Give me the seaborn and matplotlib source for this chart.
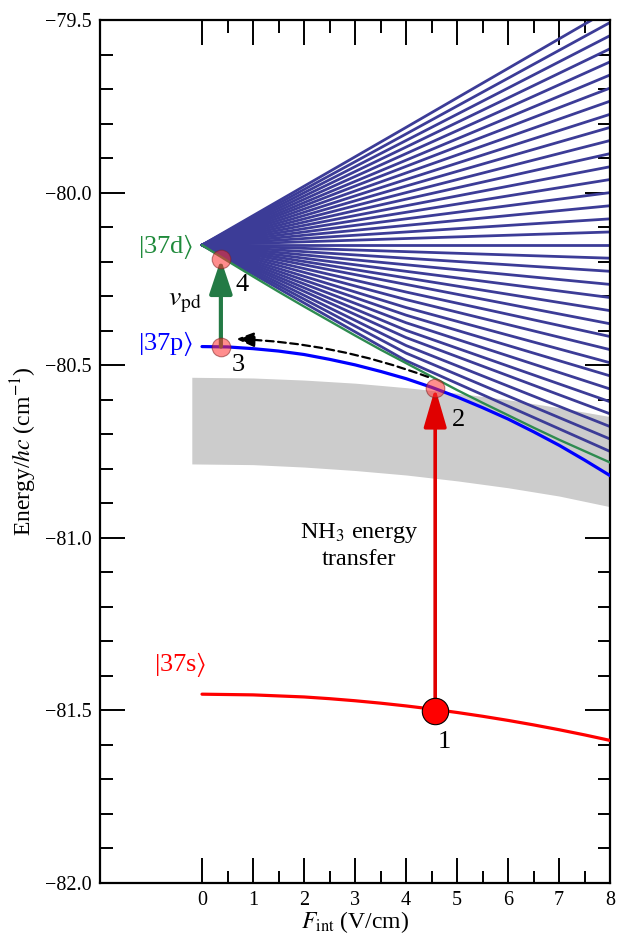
import numpy as np
import pandas as pd
import seaborn as sns
import matplotlib.pyplot as plt
from matplotlib.ticker import FuncFormatter

sns.set_theme(style='ticks')
plt.rcParams['font.family'] = ['Liberation Serif', 'DejaVu Serif']
plt.rcParams['mathtext.fontset'] = 'stix'
plt.rcParams['text.color'] = 'black'
plt.rcParams['axes.labelcolor'] = 'black'

# field strength F_int (V/cm) and energies E/hc (cm^-1)
field = [0, 0.5, 1, 1.5, 2, 2.5, 3, 3.5, 4, 4.5, 5, 5.5, 6, 6.5, 7, 7.5, 8]
state_37s = [-81.453, -81.454, -81.455, -81.458, -81.461, -81.466, -81.472, -81.479, -81.487,
             -81.496, -81.506, -81.517, -81.529, -81.542, -81.556, -81.571, -81.587]
state_37p = [-80.446, -80.447, -80.452, -80.459, -80.469, -80.483, -80.499, -80.518, -80.539,
             -80.564, -80.592, -80.623, -80.656, -80.693, -80.732, -80.775, -80.820]
state_37d = [-80.152, -80.198, -80.243, -80.287, -80.330, -80.372, -80.414, -80.455, -80.494,
             -80.533, -80.572, -80.609, -80.645, -80.681, -80.716, -80.749, -80.782]

# grey band
band_field = [-0.2, 1, 2, 3, 4, 5, 6, 7, 8]
band_top = [-80.535, -80.537, -80.543, -80.552, -80.565, -80.581, -80.600, -80.623, -80.649]
band_bottom = [-80.786, -80.788, -80.795, -80.805, -80.818, -80.835, -80.855, -80.879, -80.910]

# Stark manifold, each line at F = 0, 4, 8
fan_field = [0, 4, 8]
fan_start = -80.152
fan_mid = [-79.811, -79.830, -79.849, -79.868, -79.887, -79.906, -79.924, -79.943,
           -79.962, -79.981, -80.000, -80.019, -80.038, -80.057, -80.076, -80.095,
           -80.114, -80.133, -80.152, -80.171, -80.190, -80.209, -80.228, -80.247,
           -80.266, -80.288, -80.310, -80.333, -80.355, -80.377, -80.399, -80.420,
           -80.443, -80.465, -80.487]
fan_end = [-79.469, -79.507, -79.545, -79.583, -79.621, -79.659, -79.697, -79.735,
           -79.773, -79.811, -79.849, -79.887, -79.925, -79.962, -80.000, -80.038,
           -80.076, -80.114, -80.152, -80.190, -80.228, -80.266, -80.304, -80.342,
           -80.380, -80.417, -80.455, -80.493, -80.531, -80.569, -80.606, -80.641,
           -80.678, -80.714, -80.750]

# numbered points
point_names = ['1', '2', '3', '4']
point_field = [4.57, 4.57, 0.37, 0.37]
point_energy = [-81.502, -80.566, -80.446, -80.193]

rows = []
for i, (m, e) in enumerate(zip(fan_mid, fan_end)):
    for f, v in zip(fan_field, [fan_start, m, e]):
        rows.append({'line': i, 'F': f, 'E': v})
fan_df = pd.DataFrame(rows)

fig = plt.figure(figsize=(6.17, 9.35), dpi=100)
ax = fig.add_axes([0.162, 0.0556, 0.827, 0.923])

ax.fill_between(band_field, band_bottom, band_top, color='#cccccc', lw=0, zorder=1)

sns.lineplot(data=fan_df, x='F', y='E', units='line', estimator=None,
             color='#3c3c97', lw=2.0, ax=ax, zorder=2)
sns.lineplot(x=field, y=state_37d, color='#2e8b50', lw=1.7, ax=ax, zorder=3)
sns.lineplot(x=field, y=state_37p, color='#0000ff', lw=2.3, ax=ax, zorder=3)
sns.lineplot(x=field, y=state_37s, color='#ff0000', lw=2.3, ax=ax, zorder=3)

# arrows
ax.annotate('', xy=(point_field[1], point_energy[1]), xytext=(point_field[0], point_energy[0]),
            arrowprops=dict(arrowstyle='-|>,head_length=2.4,head_width=0.7', color='#e00000',
                            lw=2.6, shrinkA=0, shrinkB=0, mutation_scale=10), zorder=4)
ax.annotate('', xy=(point_field[3], point_energy[3]), xytext=(point_field[2], point_energy[2]),
            arrowprops=dict(arrowstyle='-|>,head_length=2.1,head_width=0.7', color='#237a45',
                            lw=3.0, shrinkA=0, shrinkB=0, mutation_scale=10), zorder=4)
ax.annotate('', xy=(0.67, -80.424), xytext=(4.43, -80.534),
            arrowprops=dict(arrowstyle='-|>,head_length=1.1,head_width=0.45', color='black',
                            lw=1.6, ls=(0, (3.5, 2)), shrinkA=0, shrinkB=0, mutation_scale=10,
                            connectionstyle='arc3,rad=0.08'), zorder=4)

ax.scatter(point_field[1:], point_energy[1:], s=13.4 ** 2, color='#ff3030', alpha=0.55,
           edgecolor='#802020', lw=0.8, zorder=6)
ax.scatter(point_field[:1], point_energy[:1], s=19 ** 2, color='#ff0000',
           edgecolor='black', lw=0.8, zorder=6)

# text
ax.text(-0.16, -80.157, r'|37d$\rangle$', color='#1f8a3b', fontsize=19, ha='right', va='center')
ax.text(-0.16, -80.436, r'|37p$\rangle$', color='#0000ff', fontsize=19, ha='right', va='center')
ax.text(0.08, -81.368, r'|37s$\rangle$', color='#ff0000', fontsize=19, ha='right', va='center')
ax.text(-0.33, -80.318, r'$v_{\rm pd}$', fontsize=20, ha='center', va='center')
label_pos = [(4.75, -81.592), (5.02, -80.659), (0.71, -80.500), (0.78, -80.268)]
for name, (x, y) in zip(point_names, label_pos):
    ax.text(x, y, name, fontsize=19, ha='center', va='center')
ax.text(3.08, -81.021, 'NH$_3$ energy\ntransfer', fontsize=17.5, ha='center', va='center',
        multialignment='center', linespacing=1.25)

ax.set_xlim(-2, 8)
ax.set_ylim(-82.0, -79.5)
ax.set_xticks(range(0, 9))
ax.set_xticks(np.arange(0.5, 8, 0.5), minor=True)
ax.set_yticks(np.arange(-82.0, -79.49, 0.5))
ax.set_yticks(np.arange(-82.0, -79.49, 0.1), minor=True)
ax.yaxis.set_major_formatter(FuncFormatter(lambda v, p: f'{v:.1f}'.replace('-', '\u2212')))
ax.tick_params(which='both', direction='in', top=True, right=True, labelsize=14.5,
               width=1.4, colors='black', pad=6)
ax.tick_params(which='major', length=18)
ax.tick_params(which='minor', length=9)
for s in ax.spines.values():
    s.set_linewidth(1.6)
    s.set_color('black')

ax.set_xlabel(r'$F_{\rm int}$ (V/cm)', fontsize=17, labelpad=-1)
ax.set_ylabel(r'Energy/$hc$ (cm$^{-1}$)', fontsize=17, labelpad=4)

fig.savefig('out.png', dpi=100)
